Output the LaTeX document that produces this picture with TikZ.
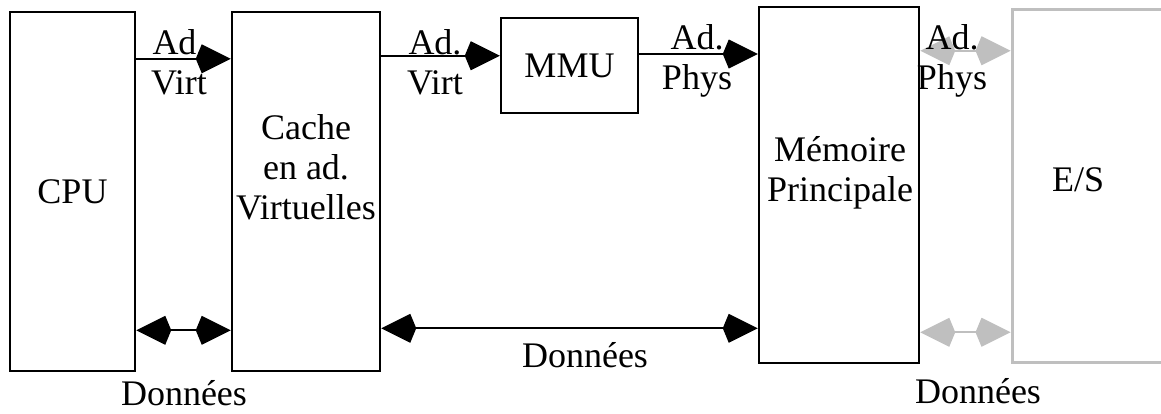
\documentclass[tikz,border=0pt]{standalone}
\usepackage{fontspec}
\setmainfont{Liberation Serif}
\usetikzlibrary{arrows.meta,positioning}
\definecolor{vmInk}{HTML}{000000}
\definecolor{vmGrey}{HTML}{BFBFBF}
\tikzset{
  unitbox/.style ={draw=vmInk,line width=1.25pt,fill=white,inner sep=0pt},
  iobox/.style   ={draw=vmGrey,line width=1.5pt,fill=white,inner sep=0pt},
  flow/.style    ={-{Kite[length=17.5pt,width=14.5pt,inset=3pt]},vmInk,line width=1pt},
  flowboth/.style={{Kite[length=17.5pt,width=14.5pt,inset=3pt]}-{Kite[length=17.5pt,width=14.5pt,inset=3pt]},
                   vmInk,line width=1pt},
  gflow/.style   ={flowboth,vmGrey},
  lbl/.style     ={font=\fontsize{18}{20}\selectfont,text=vmInk,inner sep=0pt,align=center},
}
\begin{document}
\begin{tikzpicture}[x=0.5pt,y=-0.5pt]
\useasboundingbox (0,0) rectangle (1161,413);
% -- units ------------------------------------------------------------------
\node[unitbox,minimum width=62.5pt,minimum height=179.5pt] (cpu)   at (72.5,191.5) {};
\node[unitbox,minimum width=74pt,minimum height=179.5pt]   (cache) at (306,191.5)  {};
\node[unitbox,minimum width=68.5pt,minimum height=47.5pt]  (mmu)   at (569.5,65.5) {};
\node[unitbox,minimum width=80pt,minimum height=178pt]     (mem)   at (839,185)    {};
\node[iobox,minimum width=84pt,minimum height=176.5pt]     (es)    at (1096,185.5) {};

\node[lbl] (cputxt) at (cpu.center) {CPU};
\node[lbl,anchor=north] (cachetxt) at (306,114) {Cache\\en ad.\\Virtuelles};
\node[lbl] (mmutxt) at (mmu.center) {MMU};
\node[lbl,anchor=north] (memtxt) at (840,136) {Mémoire\\Principale};
\node[lbl] (estxt) at (1078,180) {E/S};

% -- I/O links (grey) -------------------------------------------------------
\draw[gflow] ([yshift=-22.5pt]mem.north east) coordinate (g1) -- (g1 -| es.west);
\draw[gflow] ([yshift=16pt]mem.south east) coordinate (g2) -- (g2 -| es.west);

% -- address labels ---------------------------------------------------------
\node[lbl,anchor=north] (virt1) at (179,29) {Ad.\\Virt};
\node[lbl,anchor=north] (virt2) at (435,29) {Ad.\\Virt};
\node[lbl,anchor=north] (phys1) at (697,24) {Ad.\\Phys};
\node[lbl,anchor=north] (phys2) at (952,24) {Ad.\\Phys};

% -- address path -----------------------------------------------------------
\draw[flow] ([yshift=-24pt]cpu.north east) coordinate (a1) -- (a1 -| cache.west);
\draw[flow] ([yshift=-22.5pt]cache.north east) coordinate (a2) -- (a2 -| mmu.west);
\draw[flow] ([yshift=5.75pt]mmu.east) coordinate (a3) -- (a3 -| mem.west);

% -- data path --------------------------------------------------------------
\draw[flowboth] ([yshift=21pt]cpu.south east) coordinate (d1) -- (d1 -| cache.west);
\draw[flowboth] ([yshift=22pt]cache.south east) coordinate (d2) -- (d2 -| mem.west);

\node[lbl] (don1) at (184,393) {Données};
\node[lbl] (don2) at (585,355) {Données};
\node[lbl] (don3) at (978,391) {Données};
\end{tikzpicture}
\end{document}
